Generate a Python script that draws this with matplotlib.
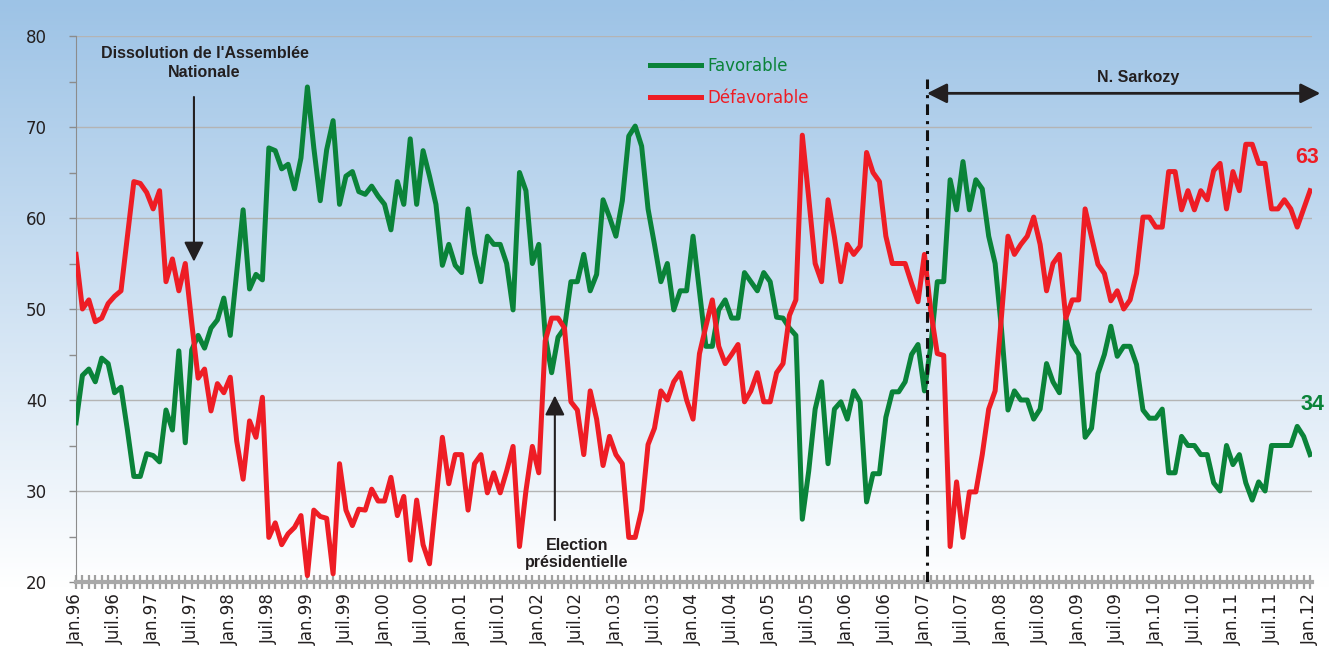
import numpy as np
import matplotlib
matplotlib.use("Agg")
import matplotlib.pyplot as plt
from matplotlib.colors import LinearSegmentedColormap

# monthly barometer, Jan.96 -> Jan.12 (one row per year)
favorable = [
    37.5, 42.7, 43.4, 42.0, 44.6, 44.0, 40.8, 41.4, 36.7, 31.6, 31.6, 34.1,   # 1996
    33.9, 33.2, 38.9, 36.7, 45.4, 35.3, 45.5, 47.1, 45.7, 47.9, 48.8, 51.2,   # 1997
    47.1, 54.0, 60.9, 52.2, 53.8, 53.2, 67.7, 67.4, 65.4, 65.9, 63.2, 66.6,   # 1998
    74.4, 67.7, 61.9, 67.5, 70.7, 61.5, 64.6, 65.1, 62.9, 62.6, 63.5, 62.4,   # 1999
    61.5, 58.7, 64.0, 61.5, 68.7, 61.5, 67.4, 64.6, 61.5, 54.8, 57.1, 54.8,   # 2000
    54.0, 61.0, 56.1, 53.0, 58.0, 57.1, 57.1, 55.0, 49.9, 65.0, 63.0, 55.0,   # 2001
    57.1, 47.1, 43.0, 46.9, 47.9, 53.0, 53.0, 56.0, 52.0, 53.8, 62.0, 60.1,   # 2002
    58.0, 61.9, 69.0, 70.1, 67.9, 61.0, 57.1, 53.0, 55.0, 49.9, 52.0, 52.0,   # 2003
    58.0, 52.0, 45.9, 45.9, 49.9, 51.0, 49.0, 49.0, 54.0, 53.0, 52.0, 54.0,   # 2004
    53.0, 49.1, 49.0, 47.9, 47.1, 26.9, 32.2, 39.0, 42.0, 33.0, 39.0, 39.8,   # 2005
    37.9, 41.0, 39.8, 28.8, 31.9, 31.9, 38.1, 40.9, 40.9, 42.0, 45.0, 46.1,   # 2006
    41.0, 46.0, 53.0, 53.0, 64.2, 60.9, 66.2, 60.9, 64.2, 63.2, 58.0, 55.0,   # 2007
    47.7, 38.9, 41.0, 40.0, 40.0, 37.9, 39.0, 44.0, 42.0, 40.8, 49.0, 46.1,   # 2008
    45.0, 35.9, 36.9, 42.9, 45.0, 48.1, 44.8, 45.9, 45.9, 43.9, 38.9, 38.0,   # 2009
    38.0, 39.0, 32.0, 32.0, 36.0, 35.0, 35.0, 34.0, 34.0, 30.9, 30.0, 35.0,   # 2010
    32.9, 34.0, 30.9, 29.0, 31.0, 30.0, 35.0, 35.0, 35.0, 35.0, 37.1, 36.0,   # 2011
    34.0,                                                                     # 2012
]
defavorable = [
    56.0, 50.0, 51.0, 48.6, 49.0, 50.6, 51.4, 52.0, 58.0, 64.0, 63.8, 62.8,
    61.0, 63.0, 53.0, 55.5, 52.0, 55.0, 48.5, 42.4, 43.4, 38.8, 41.8, 40.8,
    42.5, 35.5, 31.3, 37.7, 35.9, 40.3, 24.9, 26.5, 24.1, 25.3, 26.0, 27.3,
    20.7, 27.9, 27.2, 27.0, 20.9, 33.0, 27.9, 26.2, 28.0, 27.9, 30.2, 28.9,
    28.9, 31.5, 27.3, 29.4, 22.4, 29.0, 24.1, 22.0, 29.0, 35.9, 30.8, 34.0,
    34.0, 27.9, 33.0, 34.0, 29.8, 32.0, 29.8, 32.2, 34.9, 23.9, 30.0, 34.9,
    32.0, 46.5, 49.0, 49.0, 47.9, 39.8, 38.9, 34.0, 41.0, 37.9, 32.8, 36.0,
    34.0, 33.0, 24.9, 24.9, 27.9, 35.1, 36.9, 41.0, 40.0, 42.0, 43.0, 40.0,
    37.9, 45.1, 48.1, 51.0, 45.9, 44.0, 45.0, 46.1, 39.8, 41.0, 43.0, 39.8,
    39.8, 43.0, 44.0, 49.3, 51.0, 69.1, 62.2, 55.0, 53.0, 62.0, 57.9, 53.0,
    57.1, 56.0, 56.9, 67.2, 65.0, 64.0, 58.0, 55.0, 55.0, 55.0, 52.8, 50.8,
    56.0, 49.7, 45.1, 44.9, 23.9, 31.0, 24.9, 29.9, 29.9, 34.0, 39.0, 41.0,
    49.3, 58.0, 56.0, 57.1, 58.0, 60.1, 57.1, 52.0, 55.0, 56.0, 49.0, 51.0,
    51.0, 61.0, 57.9, 54.9, 53.9, 50.9, 52.0, 50.0, 51.0, 53.9, 60.1, 60.1,
    59.0, 59.0, 65.1, 65.1, 60.9, 63.0, 60.9, 63.0, 62.0, 65.2, 66.0, 61.0,
    65.1, 63.0, 68.1, 68.1, 66.0, 66.0, 61.0, 61.0, 62.0, 61.0, 59.0, 61.0,
    63.0,
]
tick_labels = [
    "Jan.96", "Juil.96", "Jan.97", "Juil.97", "Jan.98", "Juil.98", "Jan.99",
    "Juil.99", "Jan.00", "Juil.00", "Jan.01", "Juil.01", "Jan.02", "Juil.02",
    "Jan.03", "Juil.03", "Jan.04", "Juil.04", "Jan.05", "Juil.05", "Jan.06",
    "Juil.06", "Jan.07", "Juil.07", "Jan.08", "Juil.08", "Jan.09", "Juil.09",
    "Jan.10", "Juil.10", "Jan.11", "Juil.11", "Jan.12",
]

green = "#0A8339"
red = "#EE1D25"
ink = "#231F20"
bold = dict(family=["Liberation Sans", "DejaVu Sans"], fontweight="bold")

W, H = 1329, 649
fig = plt.figure(figsize=(W / 100, H / 100), dpi=100)
fig.patch.set_facecolor("white")

# blue -> white background
bg = fig.add_axes([0, 1 - 588 / H, 1, 588 / H], zorder=0)
cmap = LinearSegmentedColormap.from_list("bg", ["#9DC3E6", "#FFFFFF"])
bg.imshow(np.linspace(0, 1, 256)[:, None], aspect="auto", cmap=cmap,
          extent=[0, 1, 0, 1])
bg.axis("off")

ax = fig.add_axes([76 / W, 1 - 582 / H, (1312 - 76) / W, (582 - 36) / H], zorder=1)
ax.patch.set_alpha(0)

x = np.arange(len(favorable))
ax.plot(x, favorable, color=green, lw=3.6, label="Favorable", zorder=3)
ax.plot(np.arange(len(defavorable)), defavorable, color=red, lw=3.6,
        label="Défavorable", zorder=4)

ax.set_xlim(0, 192.3)
ax.set_ylim(20, 80)

ax.set_yticks(range(20, 81, 10))
ax.set_yticks(range(25, 80, 10), minor=True)
ax.yaxis.grid(True, color="#B4B4B4", lw=1)
ax.set_axisbelow(True)
ax.tick_params(axis="y", which="both", direction="out", length=5, width=1,
               color="#8C8C8C", labelsize=12, pad=16, labelcolor=ink)

ax.set_xticks(range(0, 193, 6))
ax.set_xticklabels(tick_labels, rotation=90)
ax.set_xticks(range(0, 193), minor=True)
ax.tick_params(axis="x", which="both", direction="inout", length=10, width=1.6,
               color="#A0A0A0", labelsize=12, pad=3, labelcolor=ink)

for s in ("top", "right"):
    ax.spines[s].set_visible(False)
ax.spines["left"].set_color("#8C8C8C")
ax.spines["bottom"].set_color("#A8A8A8")
ax.spines["bottom"].set_linewidth(3)

ax.legend(loc="upper left", bbox_to_anchor=(0.464, 0.962), frameon=False,
          fontsize=12, handlelength=3.1, handletextpad=0.35, labelspacing=0.85,
          borderpad=0, borderaxespad=0, labelcolor="linecolor")

# annotations
ax.text(20, 77.0, "Dissolution de l'Assemblée\nNationale", ha="center",
        va="center", fontsize=11.5, color=ink, linespacing=1.35, **bold)
ax.annotate("", xy=(18.35, 55.2), xytext=(18.35, 73.3),
            arrowprops=dict(arrowstyle="-|>,head_length=1.2,head_width=0.6",
                            mutation_scale=10, lw=1.5, color=ink,
                            shrinkA=0, shrinkB=0))

ax.text(77.9, 23.1, "Election\nprésidentielle", ha="center", va="center",
        fontsize=11.5, color=ink, linespacing=1.15, **bold)
ax.annotate("", xy=(74.5, 40.5), xytext=(74.5, 26.8),
            arrowprops=dict(arrowstyle="-|>,head_length=1.2,head_width=0.6",
                            mutation_scale=10, lw=1.5, color=ink,
                            shrinkA=0, shrinkB=0))

ax.axvline(132.4, ymin=0, ymax=(75.3 - 20) / 60, color="#111111", lw=2.2,
           ls=(0, (3.5, 2, 1, 2)), zorder=5)
ax.annotate("", xy=(193.6, 73.7), xytext=(132.4, 73.7), annotation_clip=False,
            arrowprops=dict(arrowstyle="<|-|>,head_length=1.2,head_width=0.6",
                            mutation_scale=10, lw=2, color=ink,
                            shrinkA=0, shrinkB=0))
ax.text(165.3, 75.4, "N. Sarkozy", ha="center", va="center", fontsize=11.5,
        color=ink, **bold)

ax.text(191.6, 66.7, "63", ha="center", va="center", fontsize=15.5, color=red,
        clip_on=False, **bold)
ax.text(192.4, 39.5, "34", ha="center", va="center", fontsize=15.5, color=green,
        clip_on=False, **bold)

fig.savefig("out.png", dpi=100)
